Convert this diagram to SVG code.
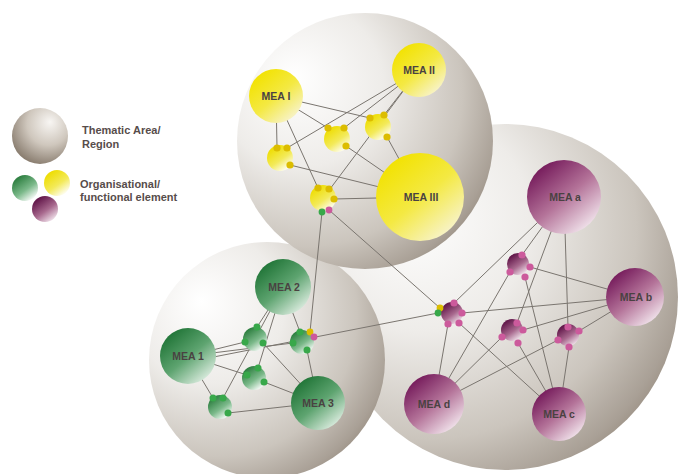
<svg xmlns="http://www.w3.org/2000/svg" width="680" height="474" viewBox="0 0 680 474">
<style>
.c{stroke:#7a756f;stroke-width:1;fill:none}
.lbl{font-family:"Liberation Sans",Arial,sans-serif;font-weight:bold;font-size:10.5px;fill:#4a4242;text-anchor:middle}
.leg{font-family:"Liberation Sans",Arial,sans-serif;font-weight:bold;font-size:11px;fill:#574d4b}
.yd{fill:#dcbd00}
.gd{fill:#38a84a}
.pd{fill:#cc5a9c}
</style>
<defs>
<radialGradient id="reg" cx="0.3" cy="0.33" r="0.8" fx="0.22" fy="0.25">
<stop offset="0" stop-color="#ffffff"/>
<stop offset="0.4" stop-color="#eeece9"/>
<stop offset="0.75" stop-color="#cbc5bd"/>
<stop offset="0.93" stop-color="#a9a096"/>
<stop offset="1" stop-color="#968b7e"/>
</radialGradient>
<radialGradient id="legreg" cx="0.62" cy="0.32" r="0.85" fx="0.68" fy="0.25">
<stop offset="0" stop-color="#f8f6f3"/>
<stop offset="0.45" stop-color="#cfc7bd"/>
<stop offset="1" stop-color="#6f6152"/>
</radialGradient>
<linearGradient id="yb" x1="0.15" y1="0.1" x2="0.85" y2="0.95">
<stop offset="0" stop-color="#f2e200"/>
<stop offset="0.5" stop-color="#f4e943"/>
<stop offset="1" stop-color="#f8f4d6"/>
</linearGradient>
<linearGradient id="gb" x1="0.15" y1="0.1" x2="0.85" y2="0.95">
<stop offset="0" stop-color="#1f7436"/>
<stop offset="0.5" stop-color="#5ea470"/>
<stop offset="1" stop-color="#e4f1e7"/>
</linearGradient>
<linearGradient id="pb" x1="0.15" y1="0.1" x2="0.85" y2="0.95">
<stop offset="0" stop-color="#74195a"/>
<stop offset="0.5" stop-color="#b47399"/>
<stop offset="1" stop-color="#f6ecf2"/>
</linearGradient>
<linearGradient id="ys" x1="0.2" y1="0.1" x2="0.8" y2="0.95">
<stop offset="0" stop-color="#eedd00"/>
<stop offset="0.55" stop-color="#f3ea5a"/>
<stop offset="1" stop-color="#ffffff"/>
</linearGradient>
<linearGradient id="gs" x1="0.2" y1="0.1" x2="0.8" y2="0.95">
<stop offset="0" stop-color="#2b7d3e"/>
<stop offset="0.55" stop-color="#7bb98a"/>
<stop offset="1" stop-color="#ffffff"/>
</linearGradient>
<linearGradient id="ps" x1="0.2" y1="0.1" x2="0.8" y2="0.95">
<stop offset="0" stop-color="#5e1246"/>
<stop offset="0.55" stop-color="#a8698e"/>
<stop offset="1" stop-color="#f3e6ee"/>
</linearGradient>
</defs>

<g id="regions">
<circle id="region-purple" cx="505" cy="297" r="173" fill="url(#reg)"/>
<circle id="region-green" cx="267" cy="360" r="118" fill="url(#reg)"/>
<circle id="region-yellow" cx="365" cy="141" r="128" fill="url(#reg)"/>
</g>

<g id="legend">
<circle cx="40" cy="136" r="28" fill="url(#legreg)"/>
<text class="leg" x="82" y="134">Thematic Area/</text>
<text class="leg" x="82" y="148">Region</text>
<circle cx="25" cy="188" r="13" fill="url(#gs)"/>
<circle cx="57" cy="183" r="13" fill="url(#ys)"/>
<circle cx="45" cy="209" r="13" fill="url(#ps)"/>
<text class="leg" x="80" y="188">Organisational/</text>
<text class="leg" x="80" y="201">functional element</text>
</g>

<g id="connectors">
<line class="c" x1="276" y1="96" x2="277" y2="147"/>
<line class="c" x1="276" y1="96" x2="318" y2="188"/>
<line class="c" x1="276" y1="96" x2="328" y2="128"/>
<line class="c" x1="276" y1="96" x2="370" y2="118"/>
<line class="c" x1="419" y1="70" x2="287" y2="148"/>
<line class="c" x1="419" y1="70" x2="344" y2="128"/>
<line class="c" x1="419" y1="70" x2="384" y2="115"/>
<line class="c" x1="419" y1="70" x2="330" y2="189"/>
<line class="c" x1="387" y1="137" x2="420" y2="197"/>
<line class="c" x1="346" y1="146" x2="420" y2="197"/>
<line class="c" x1="290" y1="165" x2="420" y2="197"/>
<line class="c" x1="334" y1="199" x2="420" y2="197"/>
<line class="c" x1="322" y1="212" x2="310" y2="332"/>
<line class="c" x1="329" y1="210" x2="440" y2="308"/>

<line class="c" x1="188" y1="356" x2="245" y2="342"/>
<line class="c" x1="188" y1="356" x2="293" y2="343"/>
<line class="c" x1="188" y1="362" x2="438" y2="313"/>
<line class="c" x1="188" y1="356" x2="247" y2="375"/>
<line class="c" x1="188" y1="356" x2="213" y2="398"/>
<line class="c" x1="283" y1="287" x2="257" y2="327"/>
<line class="c" x1="283" y1="287" x2="223" y2="398"/>
<line class="c" x1="283" y1="287" x2="258" y2="368"/>
<line class="c" x1="283" y1="287" x2="300" y2="332"/>
<line class="c" x1="263" y1="343" x2="318" y2="403"/>
<line class="c" x1="264" y1="382" x2="318" y2="403"/>
<line class="c" x1="228" y1="413" x2="318" y2="403"/>
<line class="c" x1="307" y1="350" x2="318" y2="403"/>

<line class="c" x1="564" y1="197" x2="454" y2="303"/>
<line class="c" x1="564" y1="197" x2="522" y2="255"/>
<line class="c" x1="564" y1="197" x2="517" y2="323"/>
<line class="c" x1="564" y1="197" x2="568" y2="327"/>
<line class="c" x1="635" y1="297" x2="530" y2="267"/>
<line class="c" x1="635" y1="297" x2="462" y2="313"/>
<line class="c" x1="635" y1="297" x2="523" y2="330"/>
<line class="c" x1="635" y1="297" x2="579" y2="331"/>
<line class="c" x1="559" y1="414" x2="459" y2="323"/>
<line class="c" x1="559" y1="414" x2="525" y2="277"/>
<line class="c" x1="559" y1="414" x2="518" y2="343"/>
<line class="c" x1="559" y1="414" x2="569" y2="347"/>
<line class="c" x1="434" y1="404" x2="448" y2="324"/>
<line class="c" x1="434" y1="404" x2="510" y2="272"/>
<line class="c" x1="434" y1="404" x2="502" y2="337"/>
<line class="c" x1="434" y1="404" x2="558" y2="340"/>
</g>

<g id="mea-i"><circle cx="276" cy="96" r="27" fill="url(#yb)"/><text class="lbl" x="276" y="100">MEA I</text></g>
<g id="mea-ii"><circle cx="419" cy="70" r="27" fill="url(#yb)"/><text class="lbl" x="419" y="74">MEA II</text></g>
<g id="mea-iii"><circle cx="420" cy="197" r="44" fill="url(#yb)"/><text class="lbl" x="421" y="201">MEA III</text></g>
<g id="y-a"><circle cx="280" cy="158" r="13" fill="url(#ys)"/><circle class="yd" cx="277" cy="148" r="3.6"/><circle class="yd" cx="287" cy="148" r="3.6"/><circle class="yd" cx="290" cy="165" r="3.6"/></g>
<g id="y-b"><circle cx="337" cy="139" r="13" fill="url(#ys)"/><circle class="yd" cx="328" cy="128" r="3.6"/><circle class="yd" cx="344" cy="128" r="3.6"/><circle class="yd" cx="346" cy="146" r="3.6"/></g>
<g id="y-c"><circle cx="378" cy="127" r="13" fill="url(#ys)"/><circle class="yd" cx="370" cy="118" r="3.6"/><circle class="yd" cx="384" cy="115" r="3.6"/><circle class="yd" cx="387" cy="137" r="3.6"/></g>
<g id="y-d"><circle cx="323" cy="198" r="13" fill="url(#ys)"/><circle class="yd" cx="318" cy="188" r="3.6"/><circle class="yd" cx="329" cy="189" r="3.6"/><circle class="yd" cx="334" cy="199" r="3.6"/><circle class="gd" cx="322" cy="212" r="3.4"/><circle class="pd" cx="329" cy="210" r="3.4"/></g>

<g id="mea-1"><circle cx="188" cy="356" r="28" fill="url(#gb)"/><text class="lbl" x="188" y="360">MEA 1</text></g>
<g id="mea-2"><circle cx="283" cy="287" r="28" fill="url(#gb)"/><text class="lbl" x="284" y="291">MEA 2</text></g>
<g id="mea-3"><circle cx="318" cy="403" r="27" fill="url(#gb)"/><text class="lbl" x="318" y="407">MEA 3</text></g>
<g id="g-e"><circle cx="255" cy="339" r="12" fill="url(#gs)"/><circle class="gd" cx="257" cy="327" r="3.5"/><circle class="gd" cx="245" cy="342" r="3.5"/><circle class="gd" cx="263" cy="343" r="3.5"/></g>
<g id="g-f"><circle cx="302" cy="342" r="12" fill="url(#gs)"/><circle class="gd" cx="300" cy="332" r="3.5"/><circle class="gd" cx="293" cy="343" r="3.5"/><circle class="gd" cx="307" cy="350" r="3.5"/><circle class="yd" cx="310" cy="332" r="3.4"/><circle class="pd" cx="314" cy="337" r="3.4"/></g>
<g id="g-g"><circle cx="254" cy="378" r="12" fill="url(#gs)"/><circle class="gd" cx="258" cy="368" r="3.5"/><circle class="gd" cx="247" cy="375" r="3.5"/><circle class="gd" cx="264" cy="382" r="3.5"/></g>
<g id="g-h"><circle cx="220" cy="407" r="12" fill="url(#gs)"/><circle class="gd" cx="213" cy="398" r="3.5"/><circle class="gd" cx="223" cy="398" r="3.5"/><circle class="gd" cx="228" cy="413" r="3.5"/></g>

<g id="mea-a"><circle cx="564" cy="197" r="37" fill="url(#pb)"/><text class="lbl" x="565" y="201">MEA a</text></g>
<g id="mea-b"><circle cx="635" cy="297" r="29" fill="url(#pb)"/><text class="lbl" x="636" y="301">MEA b</text></g>
<g id="mea-c"><circle cx="559" cy="414" r="27" fill="url(#pb)"/><text class="lbl" x="559" y="418">MEA c</text></g>
<g id="mea-d"><circle cx="434" cy="404" r="30" fill="url(#pb)"/><text class="lbl" x="434" y="408">MEA d</text></g>
<g id="p-1"><circle cx="452" cy="313" r="11" fill="url(#ps)"/><circle class="pd" cx="454" cy="303" r="3.6"/><circle class="pd" cx="462" cy="313" r="3.6"/><circle class="pd" cx="459" cy="323" r="3.6"/><circle class="pd" cx="448" cy="324" r="3.6"/><circle class="yd" cx="440" cy="308" r="3.4"/><circle class="gd" cx="438" cy="313" r="3.4"/></g>
<g id="p-2"><circle cx="518" cy="264" r="11" fill="url(#ps)"/><circle class="pd" cx="522" cy="255" r="3.6"/><circle class="pd" cx="530" cy="267" r="3.6"/><circle class="pd" cx="525" cy="277" r="3.6"/><circle class="pd" cx="510" cy="272" r="3.6"/></g>
<g id="p-3"><circle cx="512" cy="330" r="11" fill="url(#ps)"/><circle class="pd" cx="517" cy="323" r="3.6"/><circle class="pd" cx="523" cy="330" r="3.6"/><circle class="pd" cx="518" cy="343" r="3.6"/><circle class="pd" cx="502" cy="337" r="3.6"/></g>
<g id="p-4"><circle cx="568" cy="335" r="11" fill="url(#ps)"/><circle class="pd" cx="568" cy="327" r="3.6"/><circle class="pd" cx="579" cy="331" r="3.6"/><circle class="pd" cx="569" cy="347" r="3.6"/><circle class="pd" cx="558" cy="340" r="3.6"/></g>
</svg>
